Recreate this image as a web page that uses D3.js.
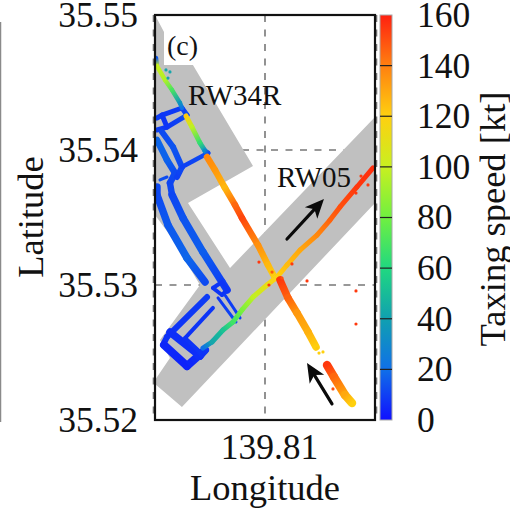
<!DOCTYPE html>
<html>
<head>
<meta charset="utf-8">
<script src="https://d3js.org/d3.v7.min.js"></script>
<style>
  html, body { margin: 0; padding: 0; background: #fff; }
  svg { display: block; }
  text { font-family: "Liberation Serif", serif; fill: #111; }
</style>
</head>
<body>
<svg id="chart" width="510" height="512"></svg>
<script>
// ─────────────────────────────────────────────────────────────
// data: every point is [longitude, latitude] or [longitude, latitude, speed in kt]
// ─────────────────────────────────────────────────────────────
const lonTicks = [139.81];
const latTicks = [35.52, 35.53, 35.54, 35.55];
const speedTicks = [0, 20, 40, 60, 80, 100, 120, 140, 160];
const speedStops = [0, 20, 40, 60, 80, 100, 120, 140, 160];
const speedColors = ['#1010ff', '#1070e8', '#10a0b0', '#20d880', '#70f040', '#c8f020', '#ffd010', '#ff8010', '#ff2010'];

const airfield = [
  [139.80000, 35.55000], [139.80082, 35.54874], [139.80082, 35.54630], [139.80345, 35.54630],
  [139.80891, 35.53881], [139.80300, 35.53607], [139.80682, 35.53126], [139.82000, 35.54244],
  [139.82000, 35.53607], [139.80245, 35.52096], [139.80000, 35.52267], [139.80000, 35.52296],
  [139.80136, 35.52459], [139.80045, 35.52593], [139.80409, 35.53000], [139.80155, 35.53348],
  [139.80000, 35.53519]
];

// taxiways
const loopTop = [
  [139.80018, 35.54237, 10], [139.80064, 35.54259, 8], [139.80245, 35.54311, 9],
  [139.80291, 35.54259, 12], [139.80109, 35.54170, 8], [139.80018, 35.54148, 10]
];
const loopClose = [[139.80064, 35.54259, 8], [139.80109, 35.54170, 8]];
const taxiLeftUpper = [
  [139.80018, 35.54074, 18], [139.80109, 35.53926, 17], [139.80182, 35.53830, 12],
  [139.80136, 35.53756, 11], [139.80155, 35.53667, 12]
];
const taxiRightUpper = [
  [139.80064, 35.54133, 12], [139.80164, 35.54022, 14], [139.80245, 35.53874, 12],
  [139.80200, 35.53800, 10]
];
const taxiLink = [[139.80245, 35.53874, 10], [139.80482, 35.53978, 12]];
const taxiStub = [[139.80045, 35.53778, 14], [139.80109, 35.53800, 12]];
const taxiLeftLower = [
  [139.80018, 35.53726, 12], [139.80018, 35.53667, 12], [139.80118, 35.53444, 15],
  [139.80291, 35.53200, 18], [139.80455, 35.53022, 12]
];
const taxiRightLower = [
  [139.80155, 35.53667, 11], [139.80255, 35.53496, 14], [139.80436, 35.53244, 16],
  [139.80609, 35.53022, 10], [139.80655, 35.52963, 8]
];
const apronOuter = [
  [139.80473, 35.52911, 9], [139.80109, 35.52615, 7], [139.80073, 35.52556, 6]
];
const apronUpperBay = [[139.80136, 35.52652, 6], [139.80409, 35.52474, 6], [139.80455, 35.52519, 10]];
const apronLowerBay = [[139.80082, 35.52556, 5], [139.80291, 35.52400, 4], [139.80455, 35.52519, 8]];
const apronInner = [[139.80527, 35.52830, 8], [139.80273, 35.52607, 7], [139.80409, 35.52504, 8]];
const apronTop = [[139.80609, 35.52926, 8], [139.80527, 35.52978, 8], [139.80609, 35.53022, 8], [139.80655, 35.52963, 8], [139.80609, 35.52926, 8]];
const exitUpper = [[139.80636, 35.52926, 9], [139.80773, 35.52756, 10]];
const exitLower = [[139.80573, 35.52904, 8], [139.80736, 35.52726, 12]];

// runway 34R, north end and rollout
const rwyNorthA = [
  [139.80009, 35.54681, 15], [139.80018, 35.54622, 100], [139.80091, 35.54519, 95],
  [139.80155, 35.54444, 70], [139.80227, 35.54348, 35], [139.80245, 35.54311, 20]
];
const rwyNorthB = [
  [139.80282, 35.54252, 122], [139.80336, 35.54170, 98], [139.80409, 35.54052, 65],
  [139.80455, 35.53993, 30], [139.80482, 35.53978, 12]
];
const rwyMain = [
  [139.80473, 35.53948, 138], [139.80545, 35.53852, 134], [139.80636, 35.53719, 126],
  [139.80727, 35.53593, 145], [139.80791, 35.53496, 152], [139.80936, 35.53296, 136],
  [139.81027, 35.53148, 126], [139.81091, 35.53052, 118]
];
const rwySouth = [
  [139.81136, 35.53037, 155], [139.81209, 35.52904, 146], [139.81291, 35.52793, 134],
  [139.81391, 35.52652, 128], [139.81464, 35.52541, 120]
];
const rwyTail = [
  [139.81564, 35.52407, 155], [139.81627, 35.52319, 145], [139.81727, 35.52185, 130],
  [139.81791, 35.52126, 120]
];

// runway 05
const rwy05 = [
  [139.80436, 35.52533, 20], [139.80518, 35.52578, 42], [139.80618, 35.52667, 52],
  [139.80709, 35.52726, 68], [139.80791, 35.52815, 82], [139.80891, 35.52911, 98],
  [139.81018, 35.53000, 112], [139.81109, 35.53059, 120], [139.81200, 35.53148, 125],
  [139.81318, 35.53259, 130], [139.81473, 35.53370, 138], [139.81591, 35.53481, 146],
  [139.81682, 35.53578, 150], [139.81836, 35.53726, 155], [139.81982, 35.53867, 157]
];

const scatter = [
  [139.80945, 35.53170, 155], [139.81036, 35.53000, 155], [139.81245, 35.53156, 155],
  [139.81382, 35.53030, 155], [139.81827, 35.52956, 155], [139.81827, 35.52711, 155],
  [139.81155, 35.53052, 150], [139.81064, 35.53096, 148], [139.81618, 35.52230, 150],
  [139.81936, 35.53741, 155], [139.81827, 35.53681, 155], [139.81873, 35.53807, 155],
  [139.80100, 35.54593, 42], [139.80136, 35.54578, 42], [139.80118, 35.54533, 42],
  [139.81491, 35.52496, 120], [139.81527, 35.52504, 120], [139.81473, 35.52533, 122]
];

const arrowUp = [[139.81200, 35.53341], [139.81536, 35.53637]];
const arrowDown = [[139.81609, 35.52119], [139.81382, 35.52422]];

// ─────────────────────────────────────────────────────────────
// scales
// ─────────────────────────────────────────────────────────────
const plot = { left: 155, right: 375, top: 15, bottom: 420 };
const barX = 380, barW = 12;
const TICK_FONT = 35.5;
const LABEL_FONT = 36.5;

const x = d3.scaleLinear().domain([139.80, 139.82]).range([plot.left, plot.right]);
const y = d3.scaleLinear().domain([35.52, 35.55]).range([plot.bottom, plot.top]);
const speedY = d3.scaleLinear().domain([0, 160]).range([plot.bottom, plot.top]);
const speedColor = d3.scaleLinear().domain(speedStops).range(speedColors).clamp(true);

const svg = d3.select('#chart');
const defs = svg.append('defs');

defs.append('clipPath').attr('id', 'plot-clip').append('rect')
  .attr('x', plot.left).attr('y', plot.top)
  .attr('width', plot.right - plot.left).attr('height', plot.bottom - plot.top);

defs.append('filter').attr('id', 'soft').append('feGaussianBlur').attr('stdDeviation', 0.5);

// stray rule at the left edge of the picture
svg.append('line')
  .attr('x1', 0.5).attr('x2', 0.5).attr('y1', 22).attr('y2', 422)
  .attr('stroke', '#8a8a8a').attr('stroke-width', 1.5);

// ─────────────────────────────────────────────────────────────
// grid and airfield
// ─────────────────────────────────────────────────────────────
const grid = svg.append('g')
  .attr('stroke', '#777').attr('stroke-width', 1.6).attr('stroke-dasharray', '7,7.5');

grid.selectAll('.gx').data(lonTicks).join('line')
  .attr('x1', d => x(d)).attr('x2', d => x(d)).attr('y1', plot.top).attr('y2', plot.bottom);
grid.selectAll('.gy').data(latTicks.slice(1, 3)).join('line')
  .attr('y1', d => y(d)).attr('y2', d => y(d)).attr('x1', plot.left).attr('x2', plot.right);
grid.selectAll('.ge').data(x.domain()).join('line')
  .attr('x1', (d, i) => x(d) + (i ? 1.5 : -1.5)).attr('x2', (d, i) => x(d) + (i ? 1.5 : -1.5))
  .attr('y1', plot.top).attr('y2', plot.bottom);

const inner = svg.append('g').attr('clip-path', 'url(#plot-clip)');
const lonLat = d3.line().x(d => x(d[0])).y(d => y(d[1]));

inner.append('path')
  .attr('d', lonLat(airfield) + 'Z')
  .attr('fill', '#c0c0c0');

// ─────────────────────────────────────────────────────────────
// tracks, coloured by speed along each segment
// ─────────────────────────────────────────────────────────────
const tracks = inner.append('g').attr('filter', 'url(#soft)');
let segId = 0;
function drawTrack(track, width) {
  d3.pairs(track).forEach(([a, b]) => {
    const id = 'seg-' + segId++;
    const g = defs.append('linearGradient').attr('id', id)
      .attr('gradientUnits', 'userSpaceOnUse')
      .attr('x1', x(a[0])).attr('y1', y(a[1])).attr('x2', x(b[0])).attr('y2', y(b[1]));
    g.append('stop').attr('offset', 0).attr('stop-color', speedColor(a[2]));
    g.append('stop').attr('offset', 1).attr('stop-color', speedColor(b[2]));
    tracks.append('line')
      .attr('x1', x(a[0])).attr('y1', y(a[1])).attr('x2', x(b[0])).attr('y2', y(b[1]))
      .attr('stroke', `url(#${id})`).attr('stroke-width', width).attr('stroke-linecap', 'round');
  });
}

[
  [loopTop, 5], [loopClose, 5], [taxiLeftUpper, 6.5], [taxiRightUpper, 6], [taxiLink, 4.5], [taxiStub, 3],
  [taxiLeftLower, 7.5], [taxiRightLower, 7.5], [apronOuter, 6], [apronUpperBay, 7.5], [apronLowerBay, 8],
  [apronInner, 4], [apronTop, 4], [exitUpper, 3], [exitLower, 3],
  [rwy05, 5], [rwyNorthA, 4.5], [rwyNorthB, 5], [rwyMain, 6.5], [rwySouth, 7.5], [rwyTail, 8.5]
].forEach(([track, width]) => drawTrack(track, width));

tracks.selectAll('.stray').data(scatter).join('circle')
  .attr('class', 'stray')
  .attr('cx', d => x(d[0])).attr('cy', d => y(d[1])).attr('r', 1.6)
  .attr('fill', d => speedColor(d[2]));

// ─────────────────────────────────────────────────────────────
// arrows
// ─────────────────────────────────────────────────────────────
function drawArrow([from, to]) {
  const x1 = x(from[0]), y1 = y(from[1]), x2 = x(to[0]), y2 = y(to[1]);
  const ang = Math.atan2(y2 - y1, x2 - x1) * 180 / Math.PI;
  const len = Math.hypot(x2 - x1, y2 - y1);
  const g = svg.append('g').attr('transform', `translate(${x1},${y1}) rotate(${ang})`);
  g.append('line').attr('x1', 0).attr('x2', len - 8)
    .attr('stroke', '#0a0a0a').attr('stroke-width', 3.2).attr('stroke-linecap', 'round');
  g.append('path')
    .attr('d', `M${len},0 L${len - 19},-8.5 L${len - 14},0 L${len - 19},8.5 Z`)
    .attr('fill', '#0a0a0a');
}
drawArrow(arrowUp);
drawArrow(arrowDown);

// label box and labels
svg.append('rect').attr('x', 164).attr('y', 17).attr('width', 29).attr('height', 48).attr('fill', '#fff');
svg.append('text').attr('x', 167).attr('y', 55).attr('font-size', 28).text('(c)');
svg.append('text').attr('x', 188).attr('y', 105).attr('font-size', 29).text('RW34R');
svg.append('text').attr('x', 277).attr('y', 187).attr('font-size', 29).text('RW05');

// frame
svg.append('rect')
  .attr('x', plot.left).attr('y', plot.top)
  .attr('width', plot.right - plot.left).attr('height', plot.bottom - plot.top)
  .attr('fill', 'none').attr('stroke', '#111').attr('stroke-width', 2.2);

// ─────────────────────────────────────────────────────────────
// axes
// ─────────────────────────────────────────────────────────────
const styleAxis = g => {
  g.select('.domain').remove();
  g.selectAll('.tick line').remove();
  g.selectAll('text').attr('font-size', TICK_FONT).attr('font-family', '"Liberation Serif", serif').attr('fill', '#111');
};

svg.append('g').attr('transform', `translate(0,${plot.bottom})`)
  .call(d3.axisBottom(x).tickValues(lonTicks).tickFormat(d3.format('.2f')).tickSize(0).tickPadding(14))
  .call(styleAxis)
  .selectAll('text').attr('dx', 4);

svg.append('g').attr('transform', `translate(${plot.left},0)`)
  .call(d3.axisLeft(y).tickValues(latTicks).tickFormat(d3.format('.2f')).tickSize(0).tickPadding(17))
  .call(styleAxis);

svg.append('text').attr('x', 265).attr('y', 500).attr('font-size', LABEL_FONT)
  .attr('text-anchor', 'middle').text('Longitude');
svg.append('text').attr('transform', 'translate(43,217) rotate(-90)').attr('font-size', LABEL_FONT)
  .attr('text-anchor', 'middle').text('Latitude');

// ─────────────────────────────────────────────────────────────
// colorbar
// ─────────────────────────────────────────────────────────────
const barGrad = defs.append('linearGradient').attr('id', 'speed-bar')
  .attr('x1', 0).attr('x2', 0).attr('y1', 1).attr('y2', 0);
barGrad.selectAll('stop').data(speedStops).join('stop')
  .attr('offset', d => d / 160)
  .attr('stop-color', d => speedColor(d));

svg.append('rect')
  .attr('x', barX).attr('y', plot.top).attr('width', barW).attr('height', plot.bottom - plot.top)
  .attr('fill', 'url(#speed-bar)').attr('stroke', '#aaa').attr('stroke-width', 1);

svg.selectAll('.bar-tick').data(speedTicks.slice(1, -1)).join('line')
  .attr('class', 'bar-tick')
  .attr('x1', barX).attr('x2', barX + barW)
  .attr('y1', d => speedY(d)).attr('y2', d => speedY(d))
  .attr('stroke', '#222').attr('stroke-width', 1.2);

svg.append('g').attr('transform', `translate(${barX + barW},0)`)
  .call(d3.axisRight(speedY).tickValues(speedTicks).tickSize(0).tickPadding(25))
  .call(styleAxis);

svg.append('text').attr('transform', 'translate(505,219) rotate(-90)').attr('font-size', LABEL_FONT)
  .attr('text-anchor', 'middle').text('Taxing speed [kt]');
</script>
</body>
</html>
